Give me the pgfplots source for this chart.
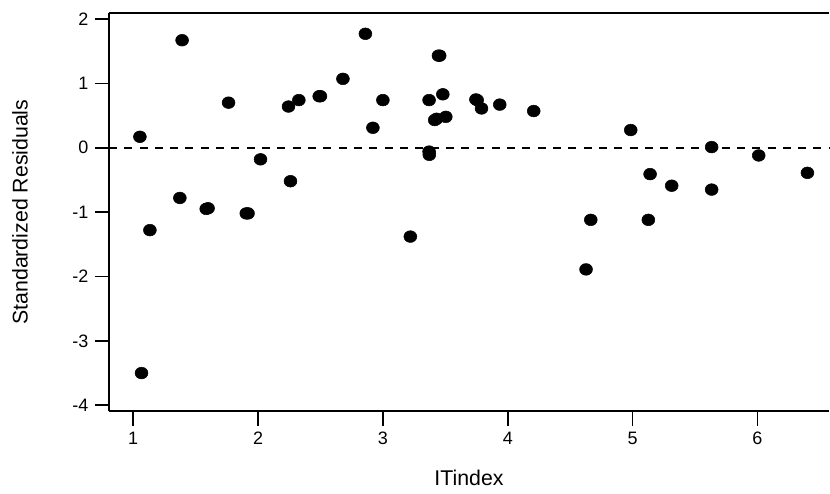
\documentclass[border=0pt]{standalone}
\usepackage{pgfplots}
\pgfplotsset{compat=1.18}
\usepackage{fontspec}
\setmainfont{Liberation Sans}
\begin{document}
\begin{tikzpicture}
\begin{axis}[
  scale only axis,
  width=540.75pt, height=299pt,
  xmin=0.8056, xmax=6.574,
  ymin=-4.093, ymax=2.093,
  axis lines*=left,
  axis line style={line width=1.3pt},
  tick align=outside,
  major tick length=10.8pt,
  tick style={line width=1.2pt, black},
  xtick={1,2,3,4,5,6},
  ytick={-4,-3,-2,-1,0,1,2},
  /pgf/number format/assume math mode=true,
  xticklabel={\fontsize{13.5}{16}\selectfont\pgfmathprintnumber{\tick}},
  yticklabel={\fontsize{13.5}{16}\selectfont\pgfmathprintnumber{\tick}},
  xticklabel style={yshift=-1pt},
  yticklabel style={xshift=-1pt},
  xlabel={ITindex},
  ylabel={Standardized Residuals},
  label style={font=\fontsize{16}{19}\selectfont},
  x label style={at={(axis description cs:0.5,0)}, anchor=center, yshift=-50pt},
  y label style={at={(axis description cs:0,0.5)}, anchor=center, yshift=66.75pt},
  clip=false,
]
\addplot[black, line width=1.3pt, dash pattern=on 6pt off 5.5pt] coordinates {(0.8056,0) (6.574,0)};
\addplot[only marks, mark=*, mark size=4.4pt, mark options={fill=black, draw=black, xscale=1.1}] coordinates {
(1.054,0.17) (1.067,-3.50) (1.134,-1.28) (1.374,-0.78) (1.392,1.67)
(1.585,-0.95) (1.600,-0.94) (1.764,0.70) (1.906,-1.02) (1.920,-1.02)
(2.02,-0.18) (2.244,0.64) (2.26,-0.52) (2.327,0.74) (2.490,0.80) (2.500,0.80)
(2.68,1.07) (2.86,1.77) (2.92,0.31) (3.00,0.74) (3.22,-1.38)
(3.37,0.74) (3.37,-0.06) (3.372,-0.11) (3.415,0.43) (3.43,0.45)
(3.445,1.43) (3.455,1.43) (3.48,0.83) (3.504,0.48)
(3.745,0.75) (3.755,0.74) (3.79,0.61) (3.936,0.67) (4.208,0.57)
(4.627,-1.89) (4.665,-1.12) (4.985,0.275) (5.126,-1.12) (5.14,-0.41)
(5.313,-0.59) (5.633,0.01) (5.633,-0.65) (6.01,-0.12) (6.40,-0.39)
};
\draw[line width=1.3pt] (rel axis cs:0,1) -- (rel axis cs:1,1);
\end{axis}
\path[use as bounding box] (-81.75pt,-61.7pt) rectangle (540.75pt,308.75pt);
\end{tikzpicture}
\end{document}
